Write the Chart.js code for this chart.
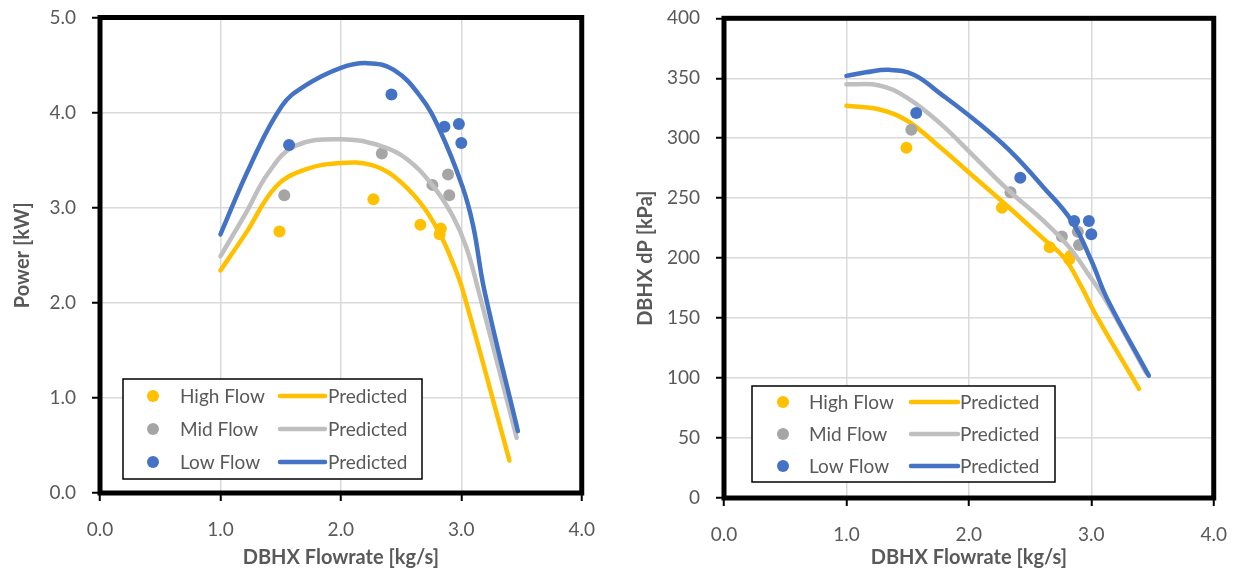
<!DOCTYPE html>
<html>
<head>
<meta charset="utf-8">
<script src="https://cdn.jsdelivr.net/npm/chart.js@4.4.1/dist/chart.umd.min.js"></script>
<style>
  html, body { margin: 0; padding: 0; background: #fff; }
  body { width: 1244px; height: 571px; position: relative; overflow: hidden; }
  #powerChart { position: absolute; left: 0; top: 0; }
  #dpChart { position: absolute; left: 612px; top: 0; }
</style>
</head>
<body>
<canvas id="powerChart" width="612" height="571"></canvas>
<canvas id="dpChart" width="632" height="571"></canvas>
<script>
// measured flowrates [kg/s]
const highFlow = [1.49, 2.27, 2.66, 2.83, 2.82];
const midFlow = [1.53, 2.34, 2.76, 2.89, 2.90];
const lowFlow = [1.57, 2.42, 2.86, 2.98, 3.00];

// measured power [kW]
const highPower = [2.75, 3.09, 2.82, 2.78, 2.72];
const midPower = [3.13, 3.57, 3.24, 3.35, 3.13];
const lowPower = [3.66, 4.19, 3.85, 3.88, 3.68];

// measured dP [kPa]
const highDp = [292, 242, 209, 202, 199];
const midDp = [307, 255, 218, 222, 211];
const lowDp = [321, 267, 231, 231, 220];

// predicted power curves
const highPowerPredX = [1.0, 1.21, 1.46, 1.70, 2.0, 2.25, 2.44, 2.66, 2.82, 2.93, 3.01, 3.40];
const highPowerPredY = [2.34, 2.73, 3.22, 3.40, 3.47, 3.45, 3.33, 3.05, 2.73, 2.42, 2.14, 0.34];
const midPowerPredX = [1.0, 1.21, 1.40, 1.62, 2.0, 2.33, 2.55, 2.77, 2.93, 3.04, 3.14, 3.46];
const midPowerPredY = [2.49, 2.94, 3.37, 3.65, 3.72, 3.65, 3.51, 3.22, 2.91, 2.59, 2.14, 0.58];
const lowPowerPredX = [1.0, 1.25, 1.51, 1.70, 2.0, 2.22, 2.44, 2.66, 2.82, 3.01, 3.10, 3.19, 3.47];
const lowPowerPredY = [2.72, 3.45, 4.07, 4.28, 4.47, 4.52, 4.45, 4.17, 3.82, 3.22, 2.80, 2.14, 0.65];

// predicted dP curves
const highDpPredX = [1.0, 1.27, 1.49, 1.77, 2.05, 2.33, 2.61, 2.78, 2.92, 3.03, 3.39];
const highDpPredY = [327, 324, 315, 292, 267, 242, 216, 200, 176, 154, 91];
const midDpPredX = [1.0, 1.27, 1.49, 1.77, 2.05, 2.33, 2.61, 2.82, 3.0, 3.13, 3.45];
const midDpPredY = [345, 344, 334, 312, 284, 256, 231, 209, 183, 163, 104];
const lowDpPredX = [1.0, 1.16, 1.35, 1.55, 1.77, 2.05, 2.33, 2.61, 2.84, 3.0, 3.13, 3.47];
const lowDpPredY = [352, 355, 357, 353, 337, 315, 290, 259, 231, 198, 166, 102];

const xTicks = [0, 1, 2, 3, 4];

const YELLOW = '#FFC000';
const GREY_PT = '#A5A5A5';
const GREY_LN = '#BFBFBF';
const BLUE = '#4472C4';
const TEXT = '#595959';
const FONT = 'Lato';

const toXY = (xs, ys) => xs.map((x, i) => ({ x, y: ys[i] }));

function pointSet(label, xs, ys, color) {
  return {
    label,
    data: toXY(xs, ys),
    backgroundColor: color,
    borderColor: color,
    pointRadius: 6,
    pointBorderWidth: 0,
    showLine: false
  };
}

function lineSet(xs, ys, color) {
  return {
    label: 'Predicted',
    data: toXY(xs, ys),
    borderColor: color,
    backgroundColor: color,
    borderWidth: 4.5,
    borderCapStyle: 'round',
    borderJoinStyle: 'round',
    pointRadius: 0,
    showLine: true,
    tension: 0.4
  };
}

// later series on top, like the spreadsheet draws them
function stackOrder(sets) {
  sets.forEach((s, i) => { s.order = sets.length - i; });
  return sets;
}

const framePlugin = {
  id: 'frame',
  afterDatasetsDraw(chart) {
    const { ctx, chartArea: a } = chart;
    ctx.save();
    ctx.strokeStyle = '#000';
    ctx.lineWidth = 5;
    ctx.strokeRect(a.left, a.top, a.right - a.left, a.bottom - a.top);
    ctx.restore();
  }
};

// two-column boxed legend: measured marker | predicted line, one row per flow
const boxLegend = {
  id: 'boxLegend',
  afterDraw(chart, args, o) {
    const { ctx } = chart;
    const sets = chart.data.datasets;
    ctx.save();
    ctx.fillStyle = '#fff';
    ctx.fillRect(o.x, o.y, o.w, o.h);
    ctx.strokeStyle = '#000';
    ctx.lineWidth = 1.5;
    ctx.strokeRect(o.x, o.y, o.w, o.h);
    ctx.font = '19px ' + FONT;
    ctx.textBaseline = 'middle';
    for (let i = 0; i < sets.length; i += 2) {
      const pts = sets[i];
      const ln = sets[i + 1];
      const y = o.y + o.rowTop + (i / 2) * o.rowGap;
      ctx.fillStyle = pts.backgroundColor;
      ctx.beginPath();
      ctx.arc(o.x + o.markerX, y, 6, 0, Math.PI * 2);
      ctx.fill();
      ctx.fillStyle = TEXT;
      ctx.fillText(pts.label, o.x + o.textX, y + 1);
      ctx.strokeStyle = ln.borderColor;
      ctx.lineWidth = 4.5;
      ctx.lineCap = 'round';
      ctx.beginPath();
      ctx.moveTo(o.x + o.lineX1, y);
      ctx.lineTo(o.x + o.lineX2, y);
      ctx.stroke();
      ctx.fillStyle = TEXT;
      ctx.fillText(ln.label, o.x + o.predX, y + 1);
    }
    ctx.restore();
  }
};

function makeChart(canvas, cfg) {
  return new Chart(canvas, {
    type: 'scatter',
    data: { datasets: stackOrder(cfg.datasets) },
    options: {
      responsive: false,
      animation: false,
      devicePixelRatio: 1,
      layout: { padding: { top: cfg.padTop, right: cfg.padRight, left: 0, bottom: 0 } },
      plugins: {
        legend: { display: false },
        tooltip: { enabled: false },
        boxLegend: cfg.legend
      },
      scales: {
        x: {
          type: 'linear',
          min: 0,
          max: 4,
          afterBuildTicks: (s) => { s.ticks = xTicks.map((v) => ({ value: v })); },
          afterFit: (s) => { s.height = cfg.xHeight; },
          ticks: {
            color: TEXT,
            padding: 17,
            font: { family: FONT, size: 19 },
            callback: (v) => Number(v).toFixed(1)
          },
          grid: { color: '#D9D9D9', lineWidth: 1.5, tickColor: '#000', tickLength: 8, tickWidth: 2 },
          border: { display: false },
          title: {
            display: true,
            text: 'DBHX Flowrate [kg/s]',
            color: TEXT,
            font: { family: FONT, size: 20, weight: 'bold' },
            padding: { top: 0, bottom: 1 }
          }
        },
        y: {
          type: 'linear',
          min: cfg.yMin,
          max: cfg.yMax,
          afterFit: (s) => {
            s.width = cfg.yWidth;
            s.paddingTop = 0;
            s.paddingBottom = 0;
          },
          ticks: {
            stepSize: cfg.yStep,
            color: TEXT,
            padding: 16,
            font: { family: FONT, size: 19 },
            callback: cfg.yFormat
          },
          grid: { color: '#D9D9D9', lineWidth: 1.5, tickColor: '#000', tickLength: 8, tickWidth: 2 },
          border: { display: false },
          title: {
            display: true,
            text: cfg.yTitle,
            color: TEXT,
            font: { family: FONT, size: 20, weight: 'bold' },
            padding: { top: cfg.yTitlePad, bottom: 0 }
          }
        }
      }
    },
    plugins: [framePlugin, boxLegend]
  });
}

makeChart(document.getElementById('powerChart'), {
  datasets: [
    pointSet('High Flow', highFlow, highPower, YELLOW),
    lineSet(highPowerPredX, highPowerPredY, YELLOW),
    pointSet('Mid Flow', midFlow, midPower, GREY_PT),
    lineSet(midPowerPredX, midPowerPredY, GREY_LN),
    pointSet('Low Flow', lowFlow, lowPower, BLUE),
    lineSet(lowPowerPredX, lowPowerPredY, BLUE)
  ],
  padTop: 17.5,
  padRight: 24,
  xHeight: 78,
  yWidth: 100,
  yMin: 0,
  yMax: 5,
  yStep: 1,
  yFormat: (v) => Number(v).toFixed(1),
  yTitle: 'Power [kW]',
  yTitlePad: 11,
  legend: { x: 123, y: 379, w: 299, h: 100, markerX: 30, textX: 57, lineX1: 157, lineX2: 202, predX: 205, rowTop: 17, rowGap: 33 }
});

makeChart(document.getElementById('dpChart'), {
  datasets: [
    pointSet('High Flow', highFlow, highDp, YELLOW),
    lineSet(highDpPredX, highDpPredY, YELLOW),
    pointSet('Mid Flow', midFlow, midDp, GREY_PT),
    lineSet(midDpPredX, midDpPredY, GREY_LN),
    pointSet('Low Flow', lowFlow, lowDp, BLUE),
    lineSet(lowDpPredX, lowDpPredY, BLUE)
  ],
  padTop: 18.3,
  padRight: 23,
  xHeight: 73,
  yWidth: 112,
  yMin: 0,
  yMax: 400,
  yStep: 50,
  yFormat: (v) => String(v),
  yTitle: 'DBHX dP [kPa]',
  yTitlePad: 22,
  legend: { x: 140, y: 386, w: 303, h: 96, markerX: 31, textX: 57, lineX1: 159, lineX2: 206, predX: 208, rowTop: 16, rowGap: 32 }
});
</script>
</body>
</html>
